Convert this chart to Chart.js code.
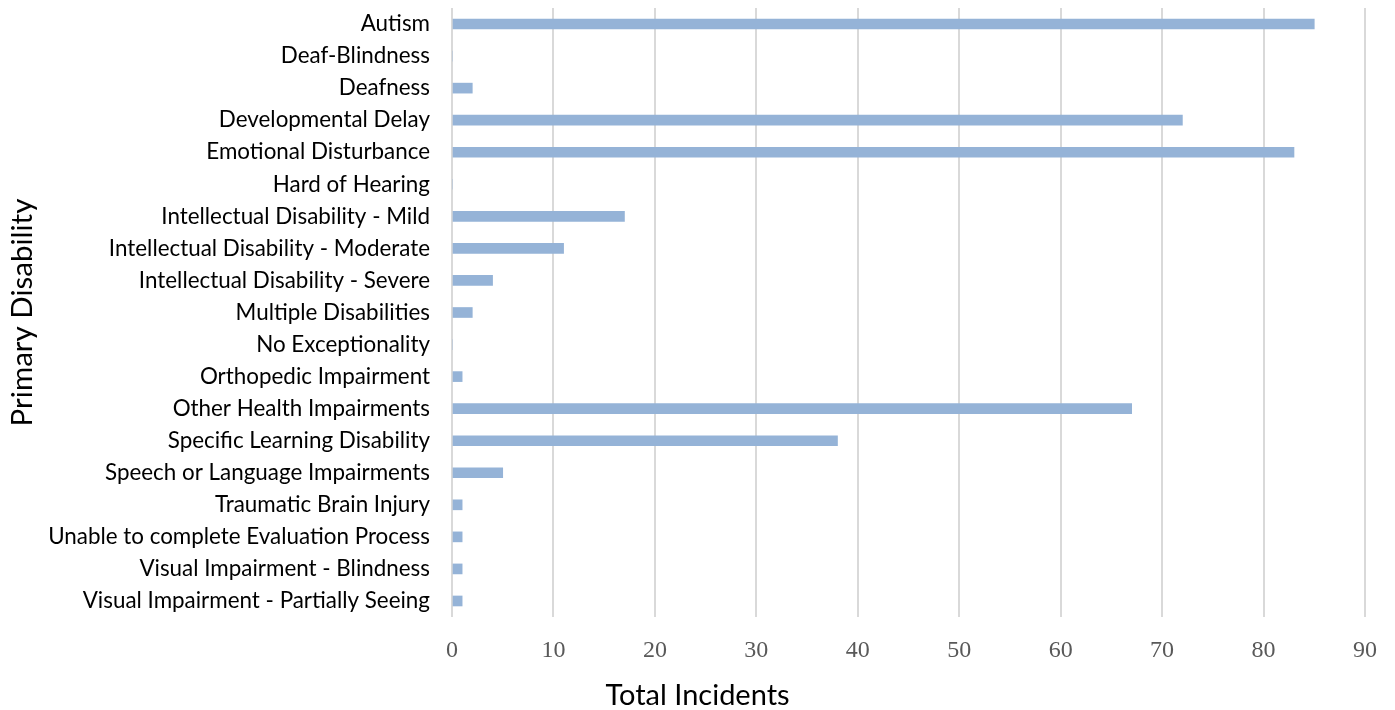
<!DOCTYPE html>
<html>
<head>
<meta charset="utf-8">
<script src="https://cdn.jsdelivr.net/npm/chart.js@4"></script>
<style>
html,body{margin:0;padding:0;background:#fff;}
#wrap{width:1395px;height:710px;position:relative;}
</style>
</head>
<body>
<div id="wrap"><canvas id="c"></canvas></div>
<script>
const categories = [
  "Autism","Deaf-Blindness","Deafness","Developmental Delay","Emotional Disturbance",
  "Hard of Hearing","Intellectual Disability - Mild","Intellectual Disability - Moderate",
  "Intellectual Disability - Severe","Multiple Disabilities","No Exceptionality",
  "Orthopedic Impairment","Other Health Impairments","Specific Learning Disability",
  "Speech or Language Impairments","Traumatic Brain Injury",
  "Unable to complete Evaluation Process","Visual Impairment - Blindness",
  "Visual Impairment - Partially Seeing"
];
const totalIncidents = [85,0,2,72,83,0,17,11,4,2,0,1,67,38,5,1,1,1,1];
const xTicks = [0,10,20,30,40,50,60,70,80,90];
const xTitle = "Total Incidents";
const yTitle = "Primary Disability";

const TARGET_TOP = 8, TARGET_BOTTOM = 617;

const chart = new Chart(document.getElementById('c'), {
  type: 'bar',
  data: {
    labels: categories,
    datasets: [{
      data: totalIncidents,
      backgroundColor: '#95B3D7',
      borderWidth: 0,
      barThickness: 10
    }]
  },
  options: {
    indexAxis: 'y',
    responsive: true,
    maintainAspectRatio: false,
    animation: false,
    layout: { padding: { top: 8, right: 0, bottom: 0, left: 0 } },
    plugins: {
      legend: { display: false },
      tooltip: { enabled: false },
      title: {
        display: true, text: xTitle, position: 'bottom', align: 'center', fullSize: true,
        color: '#000', font: { family: 'Lato', size: 29, weight: 'normal', lineHeight: 1.0 },
        padding: { top: 6, bottom: 0 }
      }
    },
    scales: {
      x: {
        min: xTicks[0], max: xTicks[xTicks.length-1],
        afterBuildTicks: (s) => { s.ticks = xTicks.map(v => ({ value: v })); },
        grid: { color: '#D9D9D9', lineWidth: 2, drawTicks: false },
        border: { display: false },
        ticks: { color: '#595959', font: { family: 'Liberation Serif', size: 24 }, padding: 19 },
        title: { display: false },
        afterFit: (s) => { s.height = 58; s.paddingRight = 30; s.paddingLeft = 0; }
      },
      y: {
        grid: { display: false, drawTicks: false },
        border: { display: false },
        ticks: { color: '#000', font: { family: 'Lato', size: 22.4 }, padding: 22 },
        title: { display: true, text: yTitle, color: '#000', font: { family: 'Lato', size: 29.5 }, padding: { top: 5, bottom: 0 } },
        afterFit: (s) => { s.width = 452; s.paddingTop = 0; s.paddingBottom = 0; }
      }
    }
  }
});

// align plot area to the reference's top/bottom
const ca = chart.chartArea;
const pad = chart.options.layout.padding;
chart.options.layout.padding = {
  top: pad.top + (TARGET_TOP - ca.top),
  right: pad.right,
  bottom: pad.bottom + (ca.bottom - TARGET_BOTTOM),
  left: pad.left
};
chart.update();
</script>
</body>
</html>
